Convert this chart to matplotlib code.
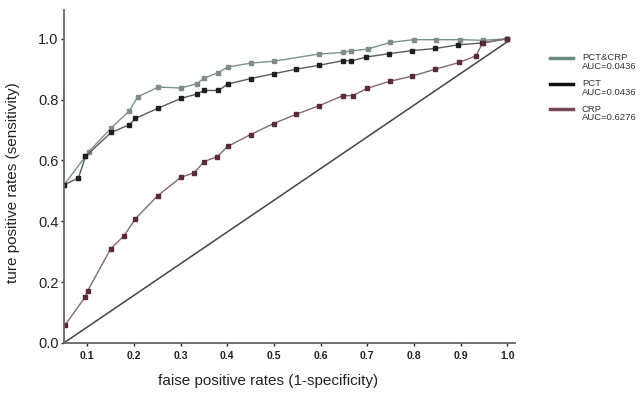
import numpy as np
import matplotlib.pyplot as plt
from matplotlib.lines import Line2D

plt.rcParams['font.family'] = ['Liberation Sans', 'DejaVu Sans']

# ROC points
fpr_both = [0.05, 0.096, 0.103, 0.151, 0.19, 0.208, 0.252, 0.301, 0.334, 0.35, 0.381,
            0.401, 0.45, 0.499, 0.597, 0.648, 0.665, 0.701, 0.749, 0.80, 0.848, 0.899,
            0.948, 1.0]
tpr_both = [0.52, 0.613, 0.629, 0.706, 0.763, 0.809, 0.841, 0.838, 0.852, 0.87, 0.889,
            0.907, 0.92, 0.926, 0.95, 0.955, 0.96, 0.966, 0.988, 0.997, 0.997, 0.997,
            0.995, 1.0]

fpr_pct = [0.05, 0.081, 0.096, 0.151, 0.19, 0.203, 0.252, 0.301, 0.334, 0.35, 0.381,
           0.401, 0.45, 0.499, 0.548, 0.597, 0.648, 0.665, 0.698, 0.747, 0.796, 0.846,
           0.894, 0.945, 1.0]
tpr_pct = [0.52, 0.542, 0.613, 0.692, 0.717, 0.738, 0.772, 0.804, 0.818, 0.83, 0.83,
           0.851, 0.869, 0.885, 0.90, 0.913, 0.928, 0.927, 0.94, 0.951, 0.961, 0.968,
           0.98, 0.986, 1.0]

fpr_crp = [0.053, 0.095, 0.101, 0.15, 0.179, 0.203, 0.251, 0.301, 0.329, 0.35, 0.378,
           0.401, 0.45, 0.499, 0.548, 0.597, 0.648, 0.669, 0.70, 0.748, 0.796, 0.846,
           0.897, 0.933, 0.947, 1.0]
tpr_crp = [0.06, 0.15, 0.172, 0.309, 0.353, 0.408, 0.484, 0.545, 0.559, 0.596, 0.612,
           0.646, 0.685, 0.721, 0.752, 0.78, 0.813, 0.813, 0.837, 0.86, 0.877, 0.90,
           0.922, 0.944, 0.986, 1.0]

labels = ['PCT&CRP\nAUC=0.0436', 'PCT\nAUC=0.0436', 'CRP\nAUC=0.6276']
ref_x = [0.05, 1.0]
ref_y = [0.0, 0.99]

W, H = 640, 395
fig = plt.figure(figsize=(6.4, 3.95), dpi=100)
ax = fig.add_axes([0.1, 0.132, 0.705, 0.843])

l1, = ax.plot(fpr_both, tpr_both, color='#7b928a', lw=1.0, marker='s', ms=3.2,
              mfc='#808c88', mec='#808c88')
l2, = ax.plot(fpr_pct, tpr_pct, color='#5a5a5a', lw=1.0, marker='s', ms=3.2,
              mfc='#1e1e1e', mec='#1e1e1e')
l3, = ax.plot(fpr_crp, tpr_crp, color='#86686f', lw=1.0, marker='s', ms=3.2,
              mfc='#5a2a38', mec='#5a2a38')
ax.plot(ref_x, ref_y, color='#444444', lw=1.1)

ax.set_xlim(0.05, 1.017)
ax.set_ylim(0.0, 1.095)
ax.set_xticks(np.arange(0.1, 1.01, 0.1))
ax.set_yticks(np.arange(0.0, 1.01, 0.2))
ax.xaxis.set_major_formatter(plt.FormatStrFormatter('%.1f'))
ax.yaxis.set_major_formatter(plt.FormatStrFormatter('%.1f'))
ax.tick_params(axis='x', labelsize=7.5, length=2, width=1, colors='#222222', pad=4)
ax.tick_params(axis='y', labelsize=10.5, length=2, width=1, colors='#222222', pad=2)
for lab in ax.get_xticklabels():
    lab.set_fontweight('bold')
for s in ['top', 'right']:
    ax.spines[s].set_visible(False)
for s in ['left', 'bottom']:
    ax.spines[s].set_color('#666666')
    ax.spines[s].set_linewidth(1.3)

ax.set_xlabel('faise positive rates (1-specificity)', fontsize=11, color='#222222')
ax.set_ylabel('ture positive rates (sensitivity)', fontsize=11, color='#222222')
ax.xaxis.set_label_coords(0.452, -0.095)
ax.yaxis.set_label_coords(-0.098, 0.48)

# legend drawn by hand so the key line sits on the first text line
leg_colors = ['#6f8a80', '#111111', '#7a4656']
for i, (lab, c) in enumerate(zip(labels, leg_colors)):
    yy = 1 - (58 + 25.5 * i) / H
    fig.add_artist(Line2D([550 / W, 573 / W], [yy, yy], transform=fig.transFigure,
                          color=c, lw=2.5))
    fig.text(582 / W, yy + 4.5 / H, lab, fontsize=6.8, color='#333333', va='top',
             ha='left', linespacing=0.95)

fig.savefig('out.png', dpi=100)
